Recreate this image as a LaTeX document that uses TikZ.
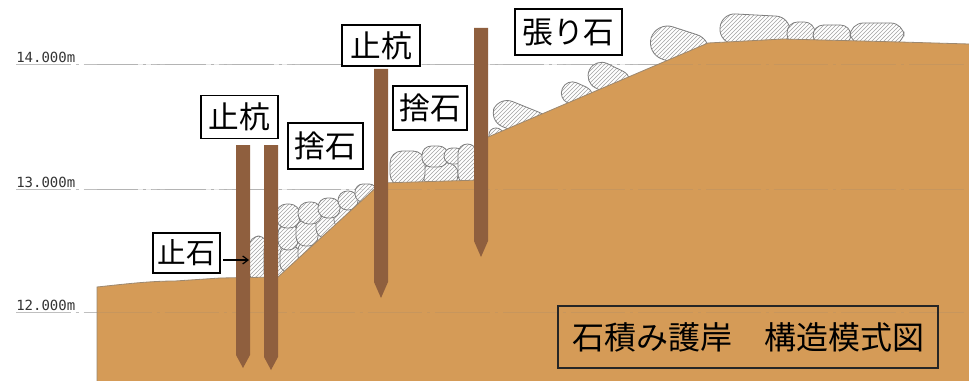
\documentclass[tikz,border=0pt]{standalone}
\usepackage{fontspec}
\setmainfont{Noto Sans CJK JP}
\newfontfamily\levelfont{DejaVu Sans Mono}
\usetikzlibrary{patterns,arrows.meta}

\definecolor{soil}{HTML}{D59B57}
\definecolor{soiledge}{HTML}{9C8870}
\definecolor{pilebrown}{HTML}{8F5F3E}
\definecolor{stoneedge}{HTML}{7E7E7E}
\definecolor{hatchgray}{HTML}{A3A3A3}

\begin{document}
\begin{tikzpicture}[x=0.75pt,y=-0.75pt,
  level/.style={draw=gray!50, line width=0.75pt,
    dash pattern=on 41pt off 3.75pt on 2.25pt off 3.75pt},
  levelsoil/.style={level, draw=black!50, draw opacity=0.16},
  levellabel/.style={font=\levelfont\fontsize{10.5}{12}\selectfont,
    text=black!80, anchor=base west, inner sep=0pt},
  stone/.style={draw=stoneedge, line width=0.6pt, preaction={fill=white},
    pattern=north east lines, pattern color=hatchgray},
  pilebody/.style={fill=pilebrown},
  tag/.style={draw=black, line width=1.4pt, fill=white, inner sep=0pt,
    font=\fontsize{23}{26}\selectfont},
  titlebox/.style={draw=black!85, line width=1.3pt, inner sep=0pt,
    font=\fontsize{24}{28}\selectfont, minimum width=380*0.75pt,
    minimum height=62*0.75pt},
  pointer/.style={-{Straight Barb[length=4pt,width=6pt]}, line width=0.9pt}
]
\useasboundingbox (0,0) rectangle (969,381);
\fill[white] (0,0) rectangle (969,381);

% datum levels
\draw[level] (16,65) -- (969,65);
\draw[level] (16,189) -- (969,189);
\draw[level] (16,312) -- (969,312);
\node[levellabel] (lv14) at (16,63) {14.000m};
\node[levellabel] (lv13) at (16,187) {13.000m};
\node[levellabel] (lv12) at (16,310) {12.000m};

% lower rubble on the first slope (stop stone at its toe)
\draw[stone, rounded corners=8] (249,236) rectangle (268,282);
\draw[stone, rounded corners=7] (264,240) rectangle (285,282);
\draw[stone, rounded corners=6] (280,246) rectangle (300,272);
\draw[stone, rounded corners=6] (298,242) rectangle (318,264);
\draw[stone, rounded corners=7] (278,224) rectangle (298,250);
\draw[stone, rounded corners=7] (296,220) rectangle (318,246);
\draw[stone, rounded corners=7] (316,214) rectangle (336,238);
\draw[stone, rounded corners=6] (334,206) rectangle (352,228);
\draw[stone, rounded corners=6] (350,198) rectangle (370,216);
\draw[stone, rounded corners=8] (276,204) rectangle (300,228);
\draw[stone, rounded corners=8] (298,202) rectangle (322,224);
\draw[stone, rounded corners=7] (318,198) rectangle (340,218);
\draw[stone, rounded corners=7] (338,191) rectangle (358,210);
\draw[stone, rounded corners=6] (355,184) rectangle (377,202);

% rubble on the middle terrace
\draw[stone, rounded corners=8] (423,163) rectangle (458,186);
\draw[stone, rounded corners=9] (390,151) rectangle (425,186);
\draw[stone, rounded corners=7] (422,146) rectangle (448,167);
\draw[stone, rounded corners=6] (444,148) rectangle (464,164);
\draw[stone, rounded corners=7] (458,144) rectangle (477,184);

% facing stones on the upper slope and crest
\draw[stone, rounded corners=5] (489,128) rectangle (503,143);
\draw[stone, rounded corners=11, rotate around={-22:(521,119)}] (492,106) rectangle (550,133);
\draw[stone, rounded corners=8, rotate around={-24:(577,95)}] (561,84) rectangle (593,106);
\draw[stone, rounded corners=10, rotate around={-26:(609,80)}] (587,66) rectangle (631,93);
\draw[stone, rounded corners=13, rotate around={-18:(680,46)}] (650,30) rectangle (710,64);
\draw[stone, rounded corners=11, rotate around={-3:(755,29)}] (720,15) rectangle (790,45);
\draw[stone, rounded corners=8] (787,22) rectangle (815,45);
\draw[stone, rounded corners=8] (813,25) rectangle (851,45);
\draw[stone, rounded corners=10] (850,23) rectangle (904,45);

% embankment soil
\fill[soil] (97,381) -- (97,287) .. controls (125,284) and (150,281) .. (175,281)
  -- (220,278) -- (278,277) -- (381,183) -- (481,180) -- (481,140)
  -- (708,43) -- (783,39) -- (900,42) -- (969,44) -- (969,381) -- cycle;
\draw[soiledge, line width=0.6pt] (97,381) -- (97,287) .. controls (125,284) and (150,281) .. (175,281)
  -- (220,278) -- (278,277) -- (381,183) -- (481,180) -- (481,140)
  -- (708,43) -- (783,39) -- (900,42) -- (969,44);

% datum levels seen through the soil
\draw[levelsoil] (97,65) -- (969,65);
\draw[levelsoil] (97,189) -- (969,189);
\draw[levelsoil] (97,312) -- (969,312);

% stakes
\fill[pilebody] (236,145) -- (250,145) -- (250,355) -- (243,368) -- (236,355) -- cycle;
\fill[pilebody] (264,145) -- (278,145) -- (278,357) -- (271,370) -- (264,357) -- cycle;
\fill[pilebody] (374,69) -- (388,69) -- (388,282) -- (381,298) -- (374,282) -- cycle;
\fill[pilebody] (474,28) -- (488,28) -- (488,241) -- (481,257) -- (474,241) -- cycle;

% labels
\node[tag, minimum width=77*0.75pt, minimum height=43*0.75pt] (stakeL) at (239.5,117) {止杭};
\node[tag, minimum width=75*0.75pt, minimum height=46*0.75pt] (rubbleL) at (325.5,146) {捨石};
\node[tag, minimum width=67*0.75pt, minimum height=40*0.75pt,
  font=\fontsize{21.5}{24}\selectfont] (stopstone) at (186.5,253) {止石};
\node[tag, minimum width=78*0.75pt, minimum height=41*0.75pt] (stakeM) at (381,45.5) {止杭};
\node[tag, minimum width=74*0.75pt, minimum height=44*0.75pt] (rubbleM) at (430,108) {捨石};
\node[tag, minimum width=107*0.75pt, minimum height=46*0.75pt] (facing) at (568.5,32) {張り石};

\coordinate (stopTip) at (249,260);
\draw[pointer] (stopstone.east |- stopTip) ++(2.5,0) -- (stopTip);

\node[titlebox] (title) at (748,337) {石積み護岸　構造模式図};
\end{tikzpicture}
\end{document}
